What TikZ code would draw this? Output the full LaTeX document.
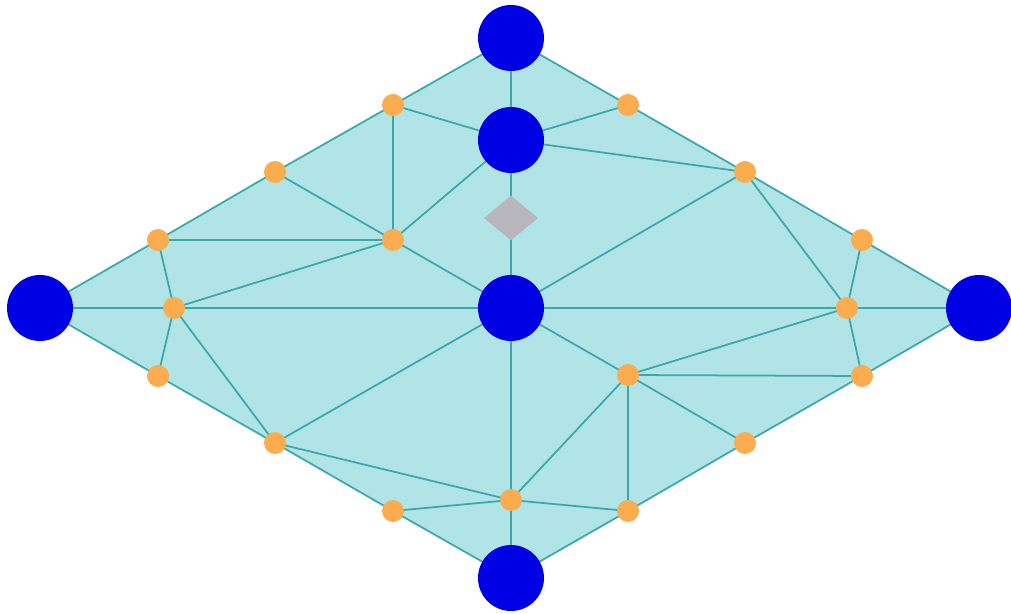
\documentclass[tikz,border=0pt]{standalone}
\usepackage{tikz}
\usetikzlibrary{shapes.geometric,backgrounds}
\definecolor{meshfill}{RGB}{176,228,230}
\definecolor{meshedge}{RGB}{60,168,170}
\definecolor{vblue}{RGB}{0,0,228}
\definecolor{vorange}{RGB}{250,172,78}
\definecolor{vgrey}{RGB}{182,182,188}

\begin{document}
\begin{tikzpicture}[
  x=0.02cm, y=-0.02cm,
  big/.style={circle, fill=vblue, minimum size=1.32cm, inner sep=0pt},
  small/.style={circle, fill=vorange, minimum size=0.44cm, inner sep=0pt},
  kite/.style={diamond, fill=vgrey, minimum width=1.08cm, minimum height=0.9cm, inner sep=0pt},
  mesh/.style={draw=meshedge, line width=1pt},
]
\useasboundingbox (0,0) rectangle (1011,614);
% blue vertices
\node[big] (top) at (511,38) {};
\node[big] (inner) at (511,140) {};
\node[big] (mid) at (511,308) {};
\node[big] (left) at (40,308) {};
\node[big] (right) at (979,308) {};
\node[big] (bot) at (511,578) {};
\node[kite] (seed) at (511,218) {};
% orange vertices, upper left
\node[small] (ul1) at (393,105) {};
\node[small] (ul2) at (275,172) {};
\node[small] (ul3) at (158,240) {};
\node[small] (ulin) at (393,240) {};
\node[small] (lin) at (174,308) {};
% lower left
\node[small] (ll1) at (158,376) {};
\node[small] (ll2) at (275,443) {};
\node[small] (ll3) at (393,511) {};
\node[small] (bin) at (511,500) {};
% upper right
\node[small] (ur1) at (628,105) {};
\node[small] (ur2) at (745,172) {};
\node[small] (ur3) at (862,240) {};
\node[small] (rin) at (847,308) {};
% lower right
\node[small] (lr1) at (862,376) {};
\node[small] (lr2) at (745,443) {};
\node[small] (lr3) at (628,511) {};
\node[small] (lrin) at (628,375) {};

\begin{scope}[on background layer]
\fill[meshfill] (top.center) -- (ul1.center) -- (ul2.center) -- (ul3.center) -- (left.center)
  -- (ll1.center) -- (ll2.center) -- (ll3.center) -- (bot.center) -- (lr3.center) -- (lr2.center)
  -- (lr1.center) -- (right.center) -- (ur3.center) -- (ur2.center) -- (ur1.center) -- cycle;
% boundary
\draw[mesh] (top.center) -- (ul1.center) -- (ul2.center) -- (ul3.center) -- (left.center)
  -- (ll1.center) -- (ll2.center) -- (ll3.center) -- (bot.center) -- (lr3.center) -- (lr2.center)
  -- (lr1.center) -- (right.center) -- (ur3.center) -- (ur2.center) -- (ur1.center) -- cycle;
% spine
\draw[mesh] (top.center) -- (inner.center) -- (mid.center) -- (bin.center) -- (bot.center);
\draw[mesh] (left.center) -- (lin.center) -- (mid.center) -- (rin.center) -- (right.center);
% upper left
\draw[mesh] (ul1.center) -- (inner.center);
\draw[mesh] (ul1.center) -- (ulin.center);
\draw[mesh] (ul2.center) -- (ulin.center);
\draw[mesh] (ul3.center) -- (ulin.center);
\draw[mesh] (ulin.center) -- (inner.center);
\draw[mesh] (ulin.center) -- (mid.center);
\draw[mesh] (ulin.center) -- (lin.center);
\draw[mesh] (ul3.center) -- (lin.center);
% lower left
\draw[mesh] (lin.center) -- (ll1.center);
\draw[mesh] (lin.center) -- (ll2.center);
\draw[mesh] (ll2.center) -- (mid.center);
\draw[mesh] (ll2.center) -- (bin.center);
\draw[mesh] (ll3.center) -- (bin.center);
% upper right
\draw[mesh] (inner.center) -- (ur1.center);
\draw[mesh] (inner.center) -- (ur2.center);
\draw[mesh] (ur2.center) -- (mid.center);
\draw[mesh] (ur2.center) -- (rin.center);
\draw[mesh] (ur3.center) -- (rin.center);
% lower right
\draw[mesh] (mid.center) -- (lrin.center);
\draw[mesh] (lrin.center) -- (rin.center);
\draw[mesh] (lrin.center) -- (lr1.center);
\draw[mesh] (lr1.center) -- (rin.center);
\draw[mesh] (lrin.center) -- (lr2.center);
\draw[mesh] (lrin.center) -- (lr3.center);
\draw[mesh] (lrin.center) -- (bin.center);
\draw[mesh] (bin.center) -- (lr3.center);
\end{scope}
\end{tikzpicture}
\end{document}
